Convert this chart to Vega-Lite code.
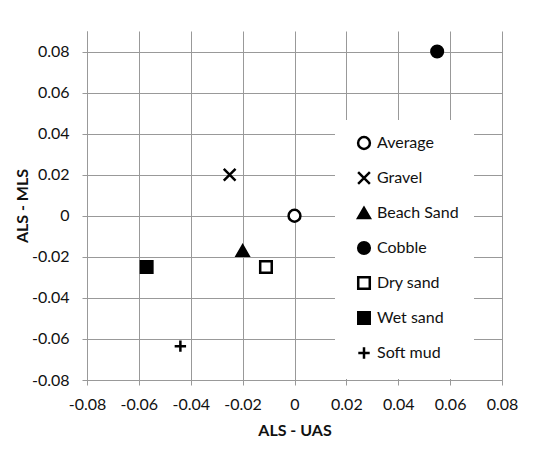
{
  "$schema": "https://vega.github.io/schema/vega-lite/v6.json",
  "width": 415,
  "height": 349,
  "autosize": {"type": "none"},
  "padding": {"left": 87, "top": 31, "right": 38, "bottom": 84},
  "background": "white",
  "data": {
    "values": [
      {"type": "Average", "uas": 0.0, "mls": 0.0},
      {"type": "Gravel", "uas": -0.025, "mls": 0.02},
      {"type": "Beach Sand", "uas": -0.02, "mls": -0.017},
      {"type": "Cobble", "uas": 0.055, "mls": 0.08},
      {"type": "Dry sand", "uas": -0.011, "mls": -0.025},
      {"type": "Wet sand", "uas": -0.057, "mls": -0.025},
      {"type": "Soft mud", "uas": -0.044, "mls": -0.0635}
    ]
  },
  "mark": {"type": "point", "filled": true, "strokeWidth": 2.5, "opacity": 1},
  "encoding": {
    "x": {
      "field": "uas", "type": "quantitative", "title": "ALS - UAS",
      "scale": {"domain": [-0.08, 0.08], "nice": false, "zero": false},
      "axis": {"values": [-0.08, -0.06, -0.04, -0.02, 0, 0.02, 0.04, 0.06, 0.08], "labelOverlap": false, "labelFlush": false, "labelExpr": "datum.value === 0 ? '0' : replace(format(datum.value, '.2f'), '\u2212', '-')"}
    },
    "y": {
      "field": "mls", "type": "quantitative", "title": "ALS - MLS",
      "scale": {"domain": [-0.08, 0.09], "nice": false, "zero": false},
      "axis": {"values": [-0.08, -0.06, -0.04, -0.02, 0, 0.02, 0.04, 0.06, 0.08], "labelOverlap": false, "labelFlush": false, "labelExpr": "datum.value === 0 ? '0' : replace(format(datum.value, '.2f'), '\u2212', '-')"}
    },
    "shape": {
      "field": "type", "type": "nominal", "title": null,
      "legend": {"labelExpr": "datum.label + '\u00a0\u00a0\u00a0\u00a0\u00a0\u00a0\u00a0\u00a0\u00a0\u00a0\u00a0\u00a0\u00a0\u00a0\u00a0'"},
      "scale": {
        "domain": ["Average", "Gravel", "Beach Sand", "Cobble", "Dry sand", "Wet sand", "Soft mud"],
        "range": ["circle", "M-1,-1L1,1M-1,1L1,-1", "triangle-up", "circle", "square", "square", "M-1,0L1,0M0,-1L0,1"]
      }
    },
    "fill": {
      "field": "type", "type": "nominal", "title": null,
      "legend": {"labelExpr": "datum.label + '\u00a0\u00a0\u00a0\u00a0\u00a0\u00a0\u00a0\u00a0\u00a0\u00a0\u00a0\u00a0\u00a0\u00a0\u00a0'"},
      "scale": {
        "domain": ["Average", "Gravel", "Beach Sand", "Cobble", "Dry sand", "Wet sand", "Soft mud"],
        "range": ["white", "black", "black", "black", "white", "black", "black"]
      }
    },
    "stroke": {
      "field": "type", "type": "nominal", "title": null,
      "legend": {"labelExpr": "datum.label + '\u00a0\u00a0\u00a0\u00a0\u00a0\u00a0\u00a0\u00a0\u00a0\u00a0\u00a0\u00a0\u00a0\u00a0\u00a0'"},
      "scale": {
        "domain": ["Average", "Gravel", "Beach Sand", "Cobble", "Dry sand", "Wet sand", "Soft mud"],
        "range": ["black", "black", "black", "black", "black", "black", "black"]
      }
    },
    "size": {
      "field": "type", "type": "nominal", "title": null,
      "legend": {"labelExpr": "datum.label + '\u00a0\u00a0\u00a0\u00a0\u00a0\u00a0\u00a0\u00a0\u00a0\u00a0\u00a0\u00a0\u00a0\u00a0\u00a0'"},
      "scale": {
        "domain": ["Average", "Gravel", "Beach Sand", "Cobble", "Dry sand", "Wet sand", "Soft mud"],
        "range": [140, 130, 170, 210, 140, 160, 120]
      }
    }
  },
  "config": {
    "view": {"stroke": null},
    "font": "Lato",
    "axis": {
      "labelFont": "Lato", "labelFontSize": 16, "labelColor": "#111",
      "titleFont": "Lato", "titleFontSize": 16, "titleFontWeight": "bold", "titleColor": "#111",
      "gridColor": "#999", "gridWidth": 1, "gridOpacity": 1,
      "domainColor": "#999", "domainWidth": 1,
      "tickColor": "#999", "tickSize": 5, "tickWidth": 1
    },
    "axisX": {"labelPadding": 11, "titlePadding": 10},
    "axisY": {"labelPadding": 13, "titlePadding": 1},
    "legend": {
      "orient": "none", "legendX": 248, "legendY": 89,
      "fillColor": "white", "padding": 15, "symbolOffset": 6,
      "rowPadding": 13, "labelFont": "Lato", "labelFontSize": 16, "labelColor": "#111",
      "labelOffset": 5, "symbolStrokeWidth": 2.5
    }
  }
}
